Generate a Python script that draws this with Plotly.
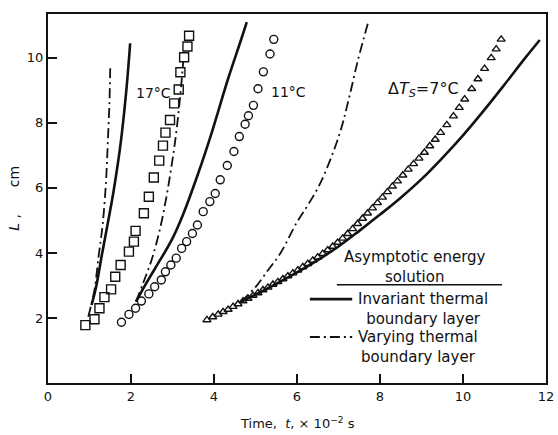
import plotly.graph_objects as go

# ---- data ----
sq17_x = [0.90, 1.12, 1.24, 1.36, 1.52, 1.62, 1.75, 1.95, 2.07, 2.11, 2.31, 2.43, 2.55, 2.68,
          2.77, 2.83, 2.94, 3.04, 3.15, 3.19, 3.28, 3.36, 3.40]
sq17_y = [1.78, 1.96, 2.30, 2.64, 2.88, 3.27, 3.63, 4.04, 4.35, 4.68, 5.22, 5.73, 6.32, 6.84,
          7.30, 7.70, 8.09, 8.60, 9.03, 9.56, 10.02, 10.35, 10.68]

ci11_x = [1.77, 1.95, 2.11, 2.25, 2.43, 2.57, 2.73, 2.83, 2.96, 3.09, 3.22, 3.34, 3.48, 3.60,
          3.74, 3.90, 4.03, 4.15, 4.32, 4.48, 4.61, 4.75, 4.83, 4.95, 5.06, 5.19, 5.35, 5.44]
ci11_y = [1.87, 2.11, 2.30, 2.52, 2.74, 2.96, 3.17, 3.42, 3.63, 3.84, 4.14, 4.35, 4.60, 4.86,
          5.27, 5.58, 5.83, 6.25, 6.69, 7.12, 7.58, 7.96, 8.22, 8.54, 9.05, 9.57, 10.12, 10.57]

tr7_x = [3.83, 3.97, 4.10, 4.22, 4.34, 4.46, 4.58, 4.70, 4.82, 4.94, 5.06, 5.18, 5.30, 5.42,
         5.54, 5.66, 5.78, 5.90, 6.02, 6.14, 6.26, 6.38, 6.50, 6.62, 6.74, 6.86, 6.98, 7.10,
         7.22, 7.34, 7.46, 7.58, 7.70, 7.82, 7.94, 8.06, 8.18, 8.30, 8.42, 8.55, 8.68, 8.81,
         8.94, 9.07, 9.20, 9.33, 9.46, 9.61, 9.77, 9.91, 10.04, 10.21, 10.36, 10.52, 10.68,
         10.80, 10.92]
tr7_y = [1.94, 2.03, 2.11, 2.19, 2.26, 2.35, 2.43, 2.52, 2.60, 2.69, 2.77, 2.86, 2.94, 3.03,
         3.11, 3.20, 3.29, 3.38, 3.47, 3.57, 3.67, 3.77, 3.87, 3.98, 4.09, 4.20, 4.32, 4.45,
         4.59, 4.74, 4.90, 5.06, 5.22, 5.38, 5.54, 5.71, 5.88, 6.05, 6.21, 6.39, 6.57, 6.74,
         6.91, 7.09, 7.29, 7.49, 7.70, 7.94, 8.21, 8.47, 8.73, 9.05, 9.35, 9.67, 10.00,
         10.27, 10.57]

# invariant thermal boundary layer (solid)
inv17_x = [1.05, 1.16, 1.30, 1.44, 1.58, 1.75, 1.88, 1.98]
inv17_y = [2.40, 2.96, 3.95, 4.91, 5.90, 7.37, 8.90, 10.45]
inv11_x = [2.12, 2.23, 2.45, 2.71, 3.00, 3.26, 3.62, 3.94, 4.33, 4.65, 4.79]
inv11_y = [2.50, 2.76, 3.25, 3.80, 4.45, 5.20, 6.45, 7.68, 9.32, 10.55, 11.10]
inv7_x = [4.65, 5.0, 5.5, 6.0, 6.5, 7.0, 7.5, 8.0, 8.5, 9.0, 9.5, 10.0, 10.5, 11.0, 11.5, 11.85]
inv7_y = [2.50, 2.72, 3.05, 3.40, 3.78, 4.20, 4.68, 5.18, 5.70, 6.27, 6.92, 7.62, 8.38, 9.18, 10.00, 10.55]

# varying thermal boundary layer (dash-dot)
var17_x = [0.97, 1.05, 1.12, 1.22, 1.32, 1.40, 1.44, 1.48, 1.50]
var17_y = [2.04, 2.45, 2.86, 3.90, 4.91, 6.25, 7.37, 8.60, 9.73]
var11_x = [2.12, 2.30, 2.50, 2.70, 2.85, 2.98, 3.08, 3.16, 3.22, 3.26]
var11_y = [2.50, 3.10, 3.80, 4.75, 5.70, 6.70, 7.60, 8.50, 9.30, 9.90]
var7_x = [4.65, 5.0, 5.29, 5.60, 6.0, 6.30, 6.60, 7.03, 7.25, 7.47, 7.71]
var7_y = [2.50, 2.95, 3.45, 3.99, 4.95, 5.55, 6.25, 7.68, 8.75, 9.94, 11.07]

x_ticks = [0, 2, 4, 6, 8, 10, 12]
y_ticks = [2, 4, 6, 8, 10]

FONT = "DejaVu Sans"
BLACK = "#111"
DASHDOT = "10px,4px,2px,4px"

fig = go.Figure()

def marks(x, y, sym, size):
    fig.add_trace(go.Scatter(x=x, y=y, mode="markers",
                             marker=dict(symbol=sym, size=size, color=BLACK,
                                         line=dict(width=1.4, color=BLACK)),
                             showlegend=False, cliponaxis=False))

def curve(x, y, dash, width):
    fig.add_trace(go.Scatter(x=x, y=y, mode="lines",
                             line=dict(color=BLACK, width=width, dash=dash, shape="spline"),
                             showlegend=False))

curve(inv17_x, inv17_y, "solid", 2.6)
curve(inv11_x, inv11_y, "solid", 2.6)
curve(inv7_x, inv7_y, "solid", 2.6)
curve(var17_x, var17_y, DASHDOT, 1.8)
curve(var11_x, var11_y, DASHDOT, 1.8)
curve(var7_x, var7_y, DASHDOT, 1.8)

marks(sq17_x, sq17_y, "square-open", 9)
marks(ci11_x, ci11_y, "circle-open", 8)
marks(tr7_x, tr7_y, "triangle-up-open", 7)

axis_common = dict(showline=True, linewidth=2, linecolor=BLACK, mirror=True,
                   ticks="inside", ticklen=9, tickwidth=1.5, tickcolor=BLACK,
                   showgrid=False, zeroline=False, automargin=False,
                   tickfont=dict(family=FONT, size=13, color=BLACK))

fig.update_xaxes(range=[0, 12], tickvals=x_ticks, ticktext=[str(v) for v in x_ticks], **axis_common)
fig.update_yaxes(range=[0, 11.35], tickvals=y_ticks, ticktext=[str(v) for v in y_ticks], **axis_common)

ann = []
def text(x, y, s, size=14, xanchor="center", xref="x", yref="y", angle=0):
    ann.append(dict(x=x, y=y, xref=xref, yref=yref, text=s, showarrow=False,
                    xanchor=xanchor, yanchor="middle", textangle=angle,
                    font=dict(family=FONT, size=size, color=BLACK)))

text(2.55, 8.92, "17°C", 14)
text(5.80, 8.95, "11°C", 14)
text(9.05, 9.02, "Δ<i>T<sub>S</sub></i>=7°C", 16)
text(8.84, 3.57, "Asymptotic energy<br>solution", 15)
text(7.42, 2.29, "Invariant thermal<br>boundary layer", 15, xanchor="left")
text(7.42, 1.12, "Varying thermal<br>boundary layer", 15, xanchor="left")
text(0.5, -0.108, "Time,  <i>t</i>, × 10<sup>−2</sup> s", 13, xref="paper", yref="paper")
text(-0.07, 0.50, "<i>L</i> ,      cm", 14, xref="paper", yref="paper", angle=-90)

fig.update_layout(
    width=558, height=435,
    margin=dict(l=48, r=12, t=14, b=52),
    paper_bgcolor="white", plot_bgcolor="white",
    annotations=ann,
    shapes=[
        dict(type="line", xref="x", yref="y", x0=6.96, x1=10.94, y0=3.02, y1=3.02,
             line=dict(color=BLACK, width=1.5)),
        dict(type="line", xref="x", yref="y", x0=6.31, x1=7.33, y0=2.58, y1=2.58,
             line=dict(color=BLACK, width=2.6)),
        dict(type="line", xref="x", yref="y", x0=6.31, x1=7.33, y0=1.415, y1=1.415,
             line=dict(color=BLACK, width=1.8, dash=DASHDOT)),
    ],
)

fig.write_html("out.html", config={"displayModeBar": False},
               post_script="document.body.style.margin='0';document.body.style.overflow='hidden';")
